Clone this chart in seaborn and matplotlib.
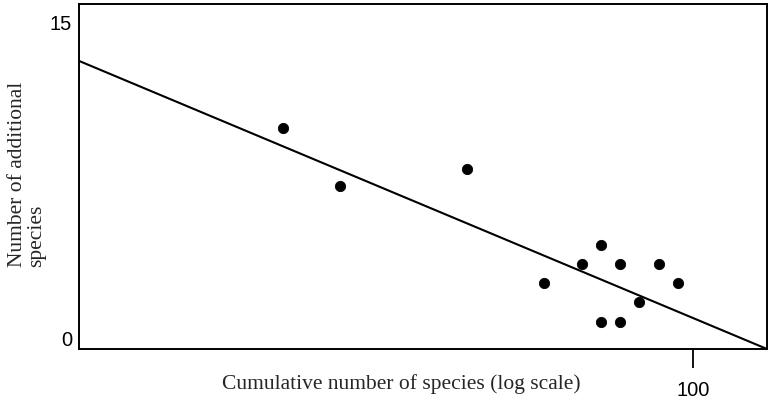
import numpy as np
import matplotlib.pyplot as plt
import seaborn as sns

# cumulative number of species (log scale) vs number of additional species
cumulative = [21.5, 26.6, 42.8, 57.2, 66.0, 70.8, 70.8, 76.2, 76.2, 81.8, 88.0, 94.6]
additional = [10.0, 7.25, 8.04, 2.6, 3.5, 4.42, 0.75, 3.5, 0.75, 1.7, 3.5, 2.6]

# fitted line end points
fit_x = [10, 132]
fit_y = [13.18, -0.52]

y_ticks = [0, 15]
x_ticks = [100]

sns.set_style("white")

fig = plt.figure(figsize=(7.68, 4.01), dpi=100)
ax = fig.add_axes([79 / 768, 52 / 401, 688 / 768, 345.5 / 401])

sns.lineplot(x=fit_x, y=fit_y, ax=ax, color="black", linewidth=1.5)
sns.scatterplot(x=cumulative, y=additional, ax=ax, color="black", s=55, edgecolor="black")

ax.set_xscale("log")
ax.set_xlim(10, 132)
ax.set_ylim(-0.52, 15.91)
ax.set_xticks(x_ticks)
ax.set_xticklabels(["100"])
ax.xaxis.set_minor_locator(plt.NullLocator())
ax.set_yticks(y_ticks)
ax.set_yticklabels(["0", "15"])
ax.tick_params(axis="x", direction="out", length=14, width=1.3, pad=9,
               labelsize=14.5, bottom=True, colors="black")
ax.tick_params(axis="y", length=0, pad=5, labelsize=14.5, colors="black")
for lab in ax.get_xticklabels() + ax.get_yticklabels():
    lab.set_fontfamily("Liberation Sans")

for sp in ax.spines.values():
    sp.set_visible(True)
    sp.set_color("black")
    sp.set_linewidth(1.4)

ax.set_xlabel("")
ax.set_ylabel("")
fig.text(401 / 768, 1 - 384 / 401, "Cumulative number of species (log scale)",
         ha="center", va="center", fontsize=15.5, family="Liberation Serif")
fig.text(27 / 768, 1 - 267 / 401, "Number of additional\nspecies", rotation=90,
         ha="center", va="bottom", multialignment="left", fontsize=15.5,
         family="Liberation Serif", linespacing=1.05)

fig.savefig("out.png", dpi=100)
